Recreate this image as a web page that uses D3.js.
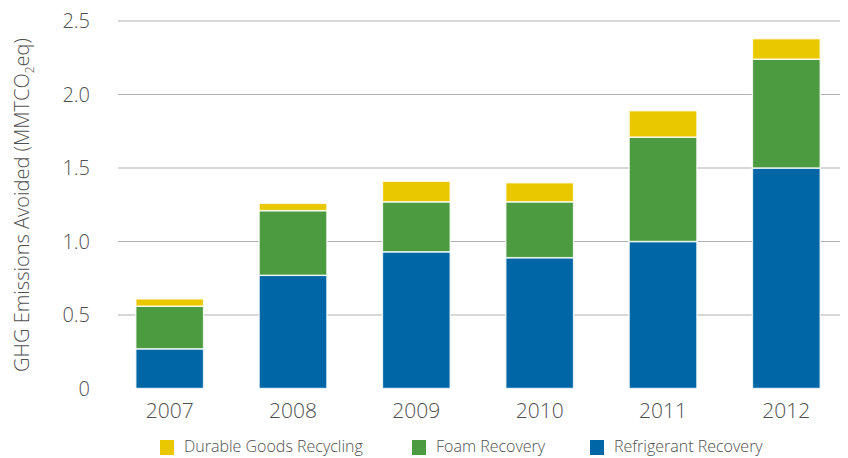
<!DOCTYPE html>
<html>
<head>
<meta charset="utf-8">
<script src="https://cdn.jsdelivr.net/npm/d3@7"></script>
<style>
  body { margin: 0; background: #fff; }
  text { font-family: "Open Sans", "Lato", sans-serif; fill: #505050; }
</style>
</head>
<body>
<svg width="848" height="458"></svg>
<script>
let years = ["2007", "2008", "2009", "2010", "2011", "2012"];
let refrigerant = [0.27, 0.77, 0.93, 0.89, 1.0, 1.5];
let foam = [0.29, 0.44, 0.34, 0.38, 0.71, 0.74];
let durable = [0.05, 0.05, 0.14, 0.13, 0.18, 0.14];
let yTicks = [0, 0.5, 1.0, 1.5, 2.0, 2.5];

let seriesNames = ["Refrigerant Recovery", "Foam Recovery", "Durable Goods Recycling"];
let colors = ["#0066a6", "#4c9b40", "#e9c800"];

let rows = years.map((y, i) => ({
  year: y,
  "Refrigerant Recovery": refrigerant[i],
  "Foam Recovery": foam[i],
  "Durable Goods Recycling": durable[i]
}));

let stacked = d3.stack().keys(seriesNames)(rows);

let svg = d3.select("svg");

let x = d3
  .scaleBand()
  .domain(years)
  .range([108, 848])
  .paddingInner(0.45)
  .paddingOuter(0.225);

let y = d3
  .scaleLinear()
  .domain([0, 2.5])
  .range([388.5, 21]);

// gridlines
svg
  .append("g")
  .selectAll("line")
  .data(yTicks.filter(t => t > 0))
  .enter()
  .append("line")
  .attr("x1", 118)
  .attr("x2", 840)
  .attr("y1", d => y(d))
  .attr("y2", d => y(d))
  .style("stroke", "#b0b0b0")
  .style("stroke-width", 1.2);

// y tick labels
svg
  .append("g")
  .selectAll("text")
  .data(yTicks)
  .enter()
  .append("text")
  .attr("x", 90)
  .attr("y", d => y(d) + 7)
  .attr("text-anchor", "end")
  .style("font-size", "20px")
  .style("font-weight", 300)
  .text(d => (d === 0 ? "0" : d.toFixed(1)));

// axis title
let title = svg
  .append("text")
  .attr("transform", "translate(29, 205) rotate(-90)")
  .attr("text-anchor", "middle")
  .style("font-size", "20px")
  .style("font-weight", 300);
title.append("tspan").text("GHG Emissions Avoided (MMTCO");
title.append("tspan").attr("dy", 5).style("font-size", "12px").text("2");
title.append("tspan").attr("dy", -5).text("eq)");

// bars
svg
  .append("g")
  .selectAll("g")
  .data(stacked)
  .enter()
  .append("g")
  .style("fill", (d, i) => colors[i])
  .selectAll("rect")
  .data(d => d)
  .enter()
  .append("rect")
  .attr("x", d => x(d.data.year))
  .attr("width", x.bandwidth())
  .attr("y", d => y(d[1]))
  .attr("height", d => y(d[0]) - y(d[1]))
  .style("stroke", "#fff")
  .style("stroke-width", 1.5)
  .style("stroke-opacity", 0.8);

// year labels
svg
  .append("g")
  .selectAll("text")
  .data(years)
  .enter()
  .append("text")
  .attr("x", d => x(d) + x.bandwidth() / 2)
  .attr("y", 418)
  .attr("text-anchor", "middle")
  .style("font-size", "21px")
  .style("font-weight", 300)
  .text(d => d);

// legend
let legendItems = [
  { name: "Durable Goods Recycling", color: colors[2], x: 160 },
  { name: "Foam Recovery", color: colors[1], x: 412 },
  { name: "Refrigerant Recovery", color: colors[0], x: 590 }
];

let lg = svg
  .append("g")
  .selectAll("g")
  .data(legendItems)
  .enter()
  .append("g")
  .attr("transform", d => `translate(${d.x}, 0)`);

lg.append("rect")
  .attr("x", 0)
  .attr("y", 440)
  .attr("width", 14)
  .attr("height", 15)
  .style("fill", d => d.color);

lg.append("text")
  .attr("x", 24)
  .attr("y", 452)
  .style("font-size", "16px")
  .style("font-weight", 300)
  .text(d => d.name);
</script>
</body>
</html>
